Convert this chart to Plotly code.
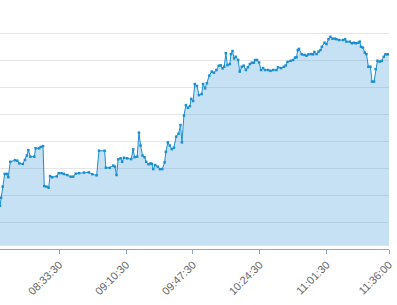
import pandas as pd
import plotly.graph_objects as go

# minutes after 08:00 and series values
minutes = [0.7, 1.3, 2.2, 3.3, 4.7, 5.3, 6.4, 9.0, 10.3, 11.4, 13.3, 14.5, 15.5, 16.4, 17.5, 19.7,
           20.4, 22.3, 23.2, 24.5, 25.2, 26.5, 27.6, 28.4, 29.6, 32.1, 33.2, 34.8, 36.1, 37.9, 39.8,
           41.2, 42.6, 44.4, 47.2, 49.9, 51.8, 54.2, 55.5, 58.6, 59.3, 61.4, 63.4, 64.3, 65.2, 66.1,
           67.5, 68.3, 69.3, 71.1, 73.3, 74.4, 75.2, 76.6, 77.6, 78.5, 79.6, 80.7, 81.6, 82.9, 84.0,
           84.8, 85.5, 86.6, 88.1, 89.2, 90.5, 91.8, 92.5, 93.6, 94.7, 95.8, 96.9, 98.2, 99.5, 100.6,
           101.4, 102.5, 103.6, 104.7, 105.8, 106.5, 107.6, 108.5, 109.7, 110.8, 112.3, 113.1, 114.2,
           115.2, 116.5, 117.9, 119.1, 120.5, 121.8, 122.9, 123.9, 124.8, 125.7, 126.6, 127.9, 128.5,
           129.4, 130.3, 131.2, 132.5, 133.4, 134.5, 135.6, 136.8, 137.9, 139.0, 140.1, 141.2, 141.9,
           143.0, 144.1, 145.2, 146.3, 147.4, 149.1, 150.4, 151.9, 153.7, 154.6, 156.3, 157.8, 158.9,
           159.8, 161.5, 162.9, 164.0, 164.8, 165.5, 166.2, 167.7, 169.2, 170.3, 171.4, 172.9, 174.0,
           174.7, 175.9, 177.0, 178.1, 178.8, 180.3, 181.4, 182.5, 183.6, 184.7, 186.0, 186.9, 188.4,
           190.6, 191.7, 192.4, 194.3, 195.4, 196.5, 197.6, 199.1, 199.8, 200.5, 201.6, 202.6, 203.5,
           204.6, 205.7, 206.6, 207.7, 208.6, 209.6, 210.9, 212.0, 213.1, 214.0, 215.0, 216.0]
values = [16.0, 19.0, 23.1, 27.8, 27.8, 26.6, 32.3, 32.9, 32.7, 31.7, 31.5, 33.0, 34.6, 36.6, 34.2, 34.2,
          37.3, 37.3, 37.8, 38.1, 23.3, 23.1, 22.7, 27.0, 26.6, 26.9, 28.1, 28.1, 27.8, 27.4, 26.8,
          26.8, 27.9, 28.1, 28.3, 28.4, 27.7, 27.3, 36.4, 36.4, 30.1, 30.1, 30.9, 30.5, 27.4, 33.2,
          33.6, 32.3, 33.8, 33.6, 33.3, 36.9, 34.0, 34.2, 43.1, 38.3, 34.6, 34.0, 32.3, 31.4, 31.7,
          31.5, 29.6, 31.1, 30.5, 29.6, 29.6, 32.1, 36.0, 39.5, 38.3, 37.0, 37.5, 41.6, 42.7, 45.9,
          39.5, 49.4, 53.3, 52.3, 52.9, 55.6, 54.8, 61.1, 60.4, 57.0, 57.4, 61.1, 59.5,
          61.4, 64.2, 65.7, 65.3, 66.3, 67.9, 68.0, 66.9, 67.5, 72.5, 68.1, 68.5, 72.2,
          73.3, 70.6, 71.2, 70.0, 65.7, 67.5, 67.9, 66.3, 67.3, 68.5, 69.0, 69.0, 70.0,
          70.0, 69.1, 66.3, 67.0, 66.3, 66.3, 66.0, 66.3, 66.3, 67.3, 67.0, 67.5, 68.0,
          69.3, 69.7, 70.0, 70.9, 71.0, 73.7, 74.1, 72.1, 71.9, 71.6, 72.1, 72.2, 72.1,
          73.0, 72.2, 73.1, 73.7, 74.9, 76.4, 75.9, 77.7, 78.6, 77.9, 77.9, 77.7, 77.4,
          77.4, 77.7, 76.8, 76.8, 76.2, 76.4, 76.2, 76.4, 76.8, 74.9, 74.6, 72.7, 72.2,
          67.5, 67.5, 62.0, 62.0, 66.6, 69.7, 69.4, 69.7, 71.2, 72.1, 72.1, 72.1]

tick_labels = ["08:33:30", "09:10:30", "09:47:30", "10:24:30", "11:01:30", "11:36:00"]
day = "2024-01-02"
area_floor = 1.2

base = pd.Timestamp(f"{day} 08:00:00")
times = [base + pd.Timedelta(minutes=m) for m in minutes]
tick_vals = [pd.Timestamp(f"{day} {t}") for t in tick_labels]

fig = go.Figure()
fig.add_trace(go.Scatter(x=times, y=[area_floor] * len(times), mode="lines",
                         line=dict(width=0), hoverinfo="skip", showlegend=False))
fig.add_trace(go.Scatter(x=times, y=values, mode="lines+markers", fill="tonexty",
                         fillcolor="rgba(40,144,212,0.27)",
                         line=dict(color="#1b8fd2", width=1),
                         marker=dict(color="#1b8fd2", size=2.5, symbol="square"),
                         showlegend=False))

fig.update_layout(
    width=397, height=305,
    margin=dict(l=0, r=8, t=6, b=56),
    paper_bgcolor="white", plot_bgcolor="white",
    font=dict(family="Liberation Sans, Arial, sans-serif", size=11, color="#666666"),
    xaxis=dict(type="date",
               range=[pd.Timestamp(f"{day} 08:00:42"), pd.Timestamp(f"{day} 11:36:00")],
               tickvals=tick_vals, ticktext=tick_labels, tickangle=-45,
               showgrid=False, showline=True, linecolor="#8fa6bb", linewidth=1,
               ticks="outside", ticklen=4, tickcolor="#8fa6bb", zeroline=False),
    yaxis=dict(range=[0, 90], dtick=10, showgrid=True, gridcolor="#e6e6e6", gridwidth=1,
               showticklabels=False, zeroline=False, showline=False),
)

fig.write_html("out.html")
